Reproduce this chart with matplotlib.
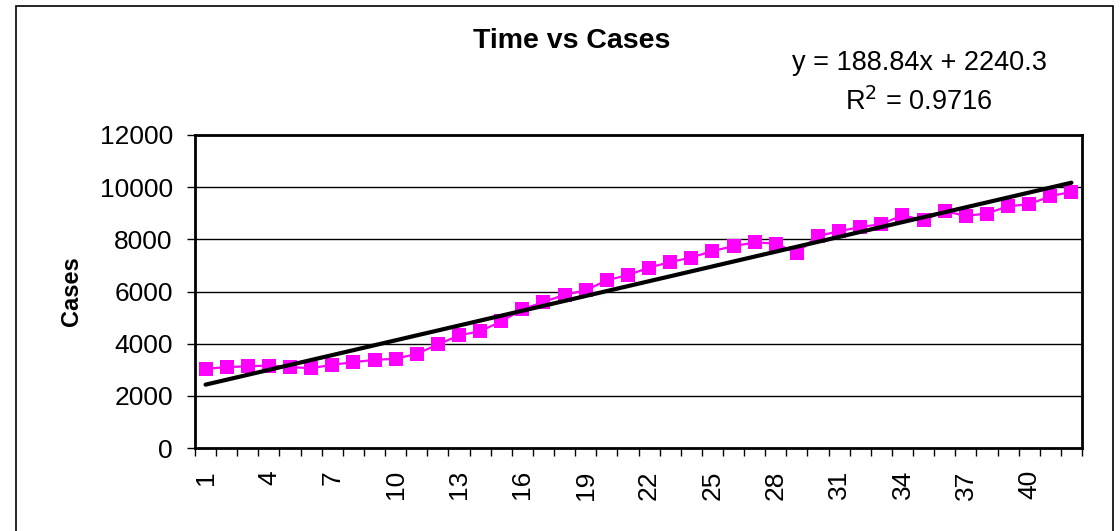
import matplotlib.pyplot as plt
import matplotlib.patches as mpatches
import numpy as np

plt.rcParams['font.family'] = ['Liberation Sans', 'DejaVu Sans']

# Data
days = list(range(1, 43))
cases = [3035, 3100, 3135, 3160, 3100, 3060, 3190, 3290, 3380, 3420,
         3610, 3970, 4315, 4480, 4850, 5315, 5595, 5875, 6045, 6430,
         6630, 6915, 7130, 7300, 7555, 7735, 7885, 7835, 7480, 8130,
         8310, 8475, 8580, 8925, 8730, 9080, 8900, 8990, 9270, 9345,
         9655, 9820]
slope = 188.84
intercept = 2240.3
r2 = 0.9716
y_ticks = [0, 2000, 4000, 6000, 8000, 10000, 12000]
x_labels = [str(d) for d in range(1, 43, 3)]

W, H = 1120, 531
fig = plt.figure(figsize=(W / 100, H / 100), dpi=100)

# chart area border
fig.patches.append(mpatches.Rectangle((16 / W, -0.05), (1113 - 16) / W, 1 - 6 / H + 0.05,
                                      transform=fig.transFigure, fill=False,
                                      edgecolor='black', linewidth=1.2))

ax = fig.add_axes([195 / W, 1 - 448 / H, (1082 - 195) / W, (448 - 135) / H])

x = np.array(days)
ax.plot(x, cases, color='#ff00ff', linewidth=1.6, marker='s', markersize=10,
        markeredgewidth=0, zorder=3)
trend = slope * x + intercept
ax.plot(x, trend, color='black', linewidth=3, solid_capstyle='round', zorder=4)

ax.set_xlim(0.5, 42.5)
ax.set_ylim(0, 12000)
ax.set_yticks(y_ticks)
ax.set_yticklabels([str(v) for v in y_ticks], fontsize=19)
ax.yaxis.grid(True, color='black', linewidth=1)
ax.set_axisbelow(True)

ax.set_xticks(np.arange(0.5, 43, 1))
ax.set_xticklabels([])
ax.set_xticks(range(1, 43, 3), minor=True)
ax.set_xticklabels(x_labels, minor=True, rotation=90, fontsize=19, va='top')
ax.tick_params(axis='x', which='minor', length=0, pad=16)
ax.tick_params(axis='x', which='major', length=6, width=1, color='black')
ax.tick_params(axis='y', which='major', length=6, width=1, color='black', pad=10)

for s in ax.spines.values():
    s.set_linewidth(2)
    s.set_color('black')

ax.set_ylabel('Cases', fontsize=17, fontweight='bold')
ax.yaxis.set_label_coords(-(195 - 83) / (1082 - 195), 0.5)

fig.text(572 / W, 1 - 41 / H, 'Time vs Cases', fontsize=20.5, fontweight='bold',
         ha='center', va='center')
fig.text(919 / W, 1 - 63 / H, f'y = {slope}x + {intercept}', fontsize=19.5,
         ha='center', va='center')
fig.text(919 / W, 1 - 102 / H, f'R$^2$ = {r2}', fontsize=19.5,
         ha='center', va='center')

fig.savefig('out.png', dpi=100, facecolor='white')
